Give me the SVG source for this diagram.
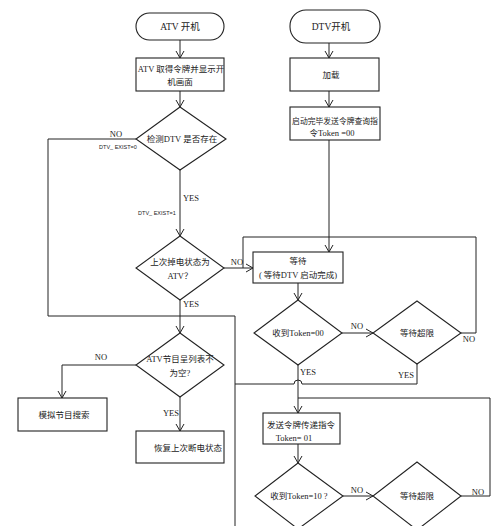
<svg xmlns="http://www.w3.org/2000/svg" width="500" height="526" viewBox="0 0 500 526">
<style>
.s{fill:#fff;stroke:#222;stroke-width:1.1}
.c{fill:none;stroke:#222;stroke-width:1}
.t{font-family:"Liberation Serif","Noto Sans CJK SC",serif;font-size:8.5px;fill:#222;text-anchor:middle}
.l{font-family:"Liberation Serif",serif;font-size:8.5px;fill:#222;text-anchor:middle}
.x{font-family:"Liberation Sans",sans-serif;font-size:5.5px;fill:#222;text-anchor:middle}
</style>
<defs>
<marker id="a" markerWidth="10" markerHeight="10" refX="8" refY="5" orient="auto" markerUnits="userSpaceOnUse">
<path d="M1,1 L8,5 L1,9" fill="none" stroke="#222" stroke-width="1"/>
</marker>
</defs>
<rect width="500" height="526" fill="#fff"/>
<g id="connectors">
<path class="c" d="M180,40 V58" marker-end="url(#a)"/>
<path class="c" d="M180,91 V107" marker-end="url(#a)"/>
<path class="c" d="M180,170 V236" marker-end="url(#a)"/>
<path class="c" d="M136,139 H48 V316 H235 V526"/>
<path class="c" d="M180,300 V333" marker-end="url(#a)"/>
<path class="c" d="M224,268 H253" marker-end="url(#a)"/>
<path class="c" d="M136,365 H62 V398" marker-end="url(#a)"/>
<path class="c" d="M180,397 V431" marker-end="url(#a)"/>
<path class="c" d="M329,43 V58" marker-end="url(#a)"/>
<path class="c" d="M329,91 V107" marker-end="url(#a)"/>
<path class="c" d="M329,140 V252" marker-end="url(#a)"/>
<path class="c" d="M298,283 V300" marker-end="url(#a)"/>
<path class="c" d="M342,333 H373" marker-end="url(#a)"/>
<path class="c" d="M461,333 H476 V237 H243 V268"/>
<path class="c" d="M298,365 V413" marker-end="url(#a)"/>
<path class="c" d="M417,364 V384 H302 A4,4 0 0 0 294,384 H235"/>
<path class="c" d="M461,496 H490 V398 H298"/>
<path class="c" d="M298,444 V463" marker-end="url(#a)"/>
<path class="c" d="M343,496 H373" marker-end="url(#a)"/>
</g>
<g id="labels">
<text class="l" x="116" y="137">NO</text>
<text class="x" x="118" y="149">DTV_ EXIST=0</text>
<text class="l" x="191" y="201">YES</text>
<text class="x" x="157" y="215">DTV_ EXIST=1</text>
<text class="l" x="237" y="265">NO</text>
<text class="l" x="191" y="307">YES</text>
<text class="l" x="101" y="360">NO</text>
<text class="l" x="171" y="416">YES</text>
<text class="l" x="357" y="329">NO</text>
<text class="l" x="308" y="375">YES</text>
<text class="l" x="406" y="378">YES</text>
<text class="l" x="469" y="342">NO</text>
<text class="l" x="357" y="493">NO</text>
<text class="l" x="478" y="495">NO</text>
</g>
<g id="atv_on">
<rect class="s" x="136" y="13" width="88" height="27" rx="13.5"/>
<text class="t" x="180" y="30" style="font-size:9.5px">ATV 开机</text>
</g>
<g id="atv_token">
<rect class="s" x="136" y="58" width="88" height="33"/>
<text class="t" x="181" y="72">ATV 取得令牌并显示开</text>
<text class="t" x="180" y="85">机画面</text>
</g>
<g id="detect_dtv">
<polygon class="s" points="180,107 226,139 180,170 136,139"/>
<text class="t" x="182" y="142">检测DTV 是否存在</text>
</g>
<g id="last_state">
<polygon class="s" points="180,236 224,268 180,300 136,268"/>
<text class="t" x="180" y="265">上次掉电状态为</text>
<text class="t" x="180" y="279">ATV？</text>
</g>
<g id="atv_list">
<polygon class="s" points="180,333 224,365 180,397 136,365"/>
<text class="t" x="180" y="362">ATV节目呈列表不</text>
<text class="t" x="180" y="376">为空?</text>
</g>
<g id="analog_search">
<rect class="s" x="18" y="398" width="89" height="33"/>
<text class="t" x="64" y="418">模拟节目搜索</text>
</g>
<g id="restore">
<rect class="s" x="136" y="431" width="88" height="32"/>
<text class="t" x="188" y="451">恢复上次断电状态</text>
</g>
<g id="dtv_on">
<rect class="s" x="290" y="10" width="90" height="33" rx="16"/>
<text class="t" x="331" y="30" style="font-size:9.5px">DTV开机</text>
</g>
<g id="load">
<rect class="s" x="290" y="58" width="89" height="33"/>
<text class="t" x="331" y="78">加载</text>
</g>
<g id="boot_done">
<rect class="s" x="290" y="107" width="90" height="33"/>
<text class="t" x="335" y="124" style="font-size:7.8px">启动完毕发送令牌查询指</text>
<text class="t" x="332" y="136">令Token =00</text>
</g>
<g id="wait">
<rect class="s" x="253" y="252" width="90" height="31"/>
<text class="t" x="298" y="264">等待</text>
<text class="t" x="298" y="278">( 等待DTV 启动完成)</text>
</g>
<g id="recv00">
<polygon class="s" points="298,300 342,333 298,365 254,333"/>
<text class="t" x="298" y="336">收到Token=00</text>
</g>
<g id="timeout1">
<polygon class="s" points="417,301 461,333 417,364 373,333"/>
<text class="t" x="417" y="336">等待超限</text>
</g>
<g id="send01">
<rect class="s" x="263" y="413" width="77" height="31"/>
<text class="t" x="301" y="428">发送令牌传递指令</text>
<text class="t" x="294" y="441">Token= 01</text>
</g>
<g id="recv10">
<polygon class="s" points="298,463 343,496 298,529 255,496"/>
<text class="t" x="299" y="499">收到Token=10 ?</text>
</g>
<g id="timeout2">
<polygon class="s" points="417,462 461,496 417,530 373,496"/>
<text class="t" x="417" y="499">等待超限</text>
</g>
</svg>
